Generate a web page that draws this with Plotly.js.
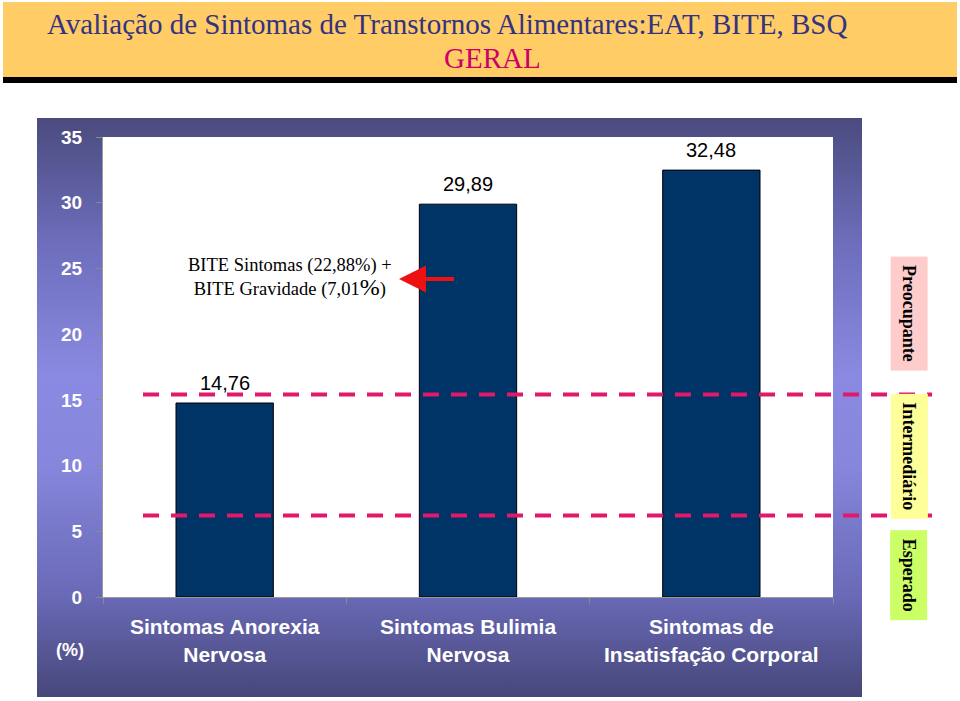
<!DOCTYPE html>
<html>
<head>
<meta charset="utf-8">
<script src="https://cdn.plot.ly/plotly-3.0.1.min.js"></script>
<style>
  html, body { margin:0; padding:0; background:#ffffff; }
  #wrap { position:relative; width:960px; height:701px; overflow:hidden; }
  #band { position:absolute; left:3px; top:2px; width:954px; height:75px; background:#FFCC66; }
  #bar { position:absolute; left:3px; top:77px; width:954px; height:6px; background:#000000; }
  #panel { position:absolute; left:37px; top:118px; width:825px; height:579px;
    background:linear-gradient(to bottom, #4b4b7f 0%, #6e6ebd 22%, #8a8ae2 45%, #8686dc 60%, #6a6ab8 82%, #47477a 100%); }
  #chart { position:absolute; left:0; top:0; width:960px; height:701px; }
</style>
</head>
<body>
<div id="wrap">
  <div id="band"></div>
  <div id="bar"></div>
  <div id="panel"></div>
  <div id="chart"></div>
</div>
<script>
// ---- data ----
const categories = ["Sintomas Anorexia<br>Nervosa", "Sintomas Bulimia<br>Nervosa", "Sintomas de<br>Insatisfação Corporal"];
const values = [14.76, 29.89, 32.48];
const thresholds = [15.4, 6.2];            // upper and lower cut-off lines
const zoneLabels = ["Preocupante", "Intermediário", "Esperado"];
const zoneCenters = [21.6, 10.7, 1.7];
const zoneColors = ["#FFCCCC", "#FFFF99", "#CCFF66"];
const yTicks = [0, 5, 10, 15, 20, 25, 30, 35];
const noteText = "BITE Sintomas (22,88%) +<br>BITE Gravidade (7,01<span style='font-size:24px'>%</span>)";
const noteY = 24.3;

const fmt = v => v.toFixed(2).replace('.', ',');

const trace = {
  type: 'bar',
  x: categories,
  y: values,
  marker: { color: '#003366', line: { color: '#000000', width: 1 } },
  hoverinfo: 'none'
};

const annotations = [];
// bar value labels
values.forEach((v, i) => {
  annotations.push({
    x: categories[i], y: v, xref: 'x', yref: 'y',
    text: fmt(v), showarrow: false, yanchor: 'bottom', yshift: 7,
    font: { family: 'Liberation Sans, Arial, sans-serif', size: 20, color: '#000000' }
  });
});
// title lines
annotations.push({
  xref: 'paper', yref: 'paper', x: (447 - 103) / 730, y: (597 - 24) / 460,
  xanchor: 'center', yanchor: 'middle', showarrow: false,
  text: 'Avaliação de Sintomas de Transtornos Alimentares:EAT, BITE, BSQ',
  font: { family: 'Liberation Serif, Times New Roman, serif', size: 29, color: '#333380' }
});
annotations.push({
  xref: 'paper', yref: 'paper', x: (492 - 103) / 730, y: (597 - 58) / 460,
  xanchor: 'center', yanchor: 'middle', showarrow: false,
  text: 'GERAL',
  font: { family: 'Liberation Serif, Times New Roman, serif', size: 29, color: '#CC0066' }
});
// note text
annotations.push({
  xref: 'paper', yref: 'y', x: (290 - 103) / 730, y: noteY,
  xanchor: 'center', yanchor: 'middle', showarrow: false, align: 'center',
  text: noteText,
  font: { family: 'Liberation Serif, Times New Roman, serif', size: 18.5, color: '#000000' }
});
// red arrow
annotations.push({
  xref: 'paper', yref: 'y', x: (399 - 103) / 730, y: 24.2,
  ax: 58, ay: 0, text: ' ', showarrow: true,
  arrowhead: 2, arrowsize: 1.35, arrowwidth: 4, arrowcolor: '#EE1111'
});
// (%)
annotations.push({
  xref: 'paper', yref: 'paper', x: (70 - 103) / 730, y: (597 - 650) / 460,
  xanchor: 'center', yanchor: 'middle', showarrow: false, text: '(%)',
  font: { family: 'Liberation Sans, Arial, sans-serif', size: 18, color: '#ffffff', weight: 'bold' }
});
// zone labels
zoneLabels.forEach((t, i) => {
  annotations.push({
    xref: 'paper', yref: 'y', x: (909 - 103) / 730, y: zoneCenters[i],
    xanchor: 'center', yanchor: 'middle', showarrow: false,
    text: '<b>' + t + '</b>', textangle: 90, bgcolor: zoneColors[i], borderpad: 8,
    font: { family: 'Liberation Serif, Times New Roman, serif', size: 18, color: '#000000' }
  });
});

const shapes = thresholds.map(t => ({
  type: 'line', xref: 'paper', yref: 'y',
  x0: (143 - 103) / 730, x1: (932 - 103) / 730, y0: t, y1: t,
  line: { color: '#E2186A', width: 4, dash: '16px,12px' }
}));

const layout = {
  width: 960, height: 701,
  margin: { l: 103, r: 127, t: 137, b: 104 },
  paper_bgcolor: 'rgba(0,0,0,0)',
  plot_bgcolor: '#ffffff',
  showlegend: false,
  bargap: 0.6,
  xaxis: {
    type: 'category', tickson: 'boundaries', ticks: 'outside', ticklen: 6, tickcolor: '#8a8a8a',
    showline: true, linecolor: '#9a9a9a', linewidth: 1, showgrid: false, zeroline: false,
    ticklabelstandoff: 11,
    tickfont: { family: 'Liberation Sans, Arial, sans-serif', size: 21, color: '#ffffff', weight: 'bold' }
  },
  yaxis: {
    range: [0, 35], tickvals: yTicks, ticktext: yTicks.map(String),
    ticks: 'outside', ticklen: 6, tickcolor: '#8a8a8a',
    showline: true, linecolor: '#9a9a9a', linewidth: 1, showgrid: false, zeroline: false,
    ticklabelstandoff: 10,
    tickfont: { family: 'Liberation Sans, Arial, sans-serif', size: 19, color: '#ffffff', weight: 'bold' }
  },
  annotations: annotations,
  shapes: shapes
};

Plotly.newPlot('chart', [trace], layout, { displayModeBar: false, staticPlot: true });
</script>
</body>
</html>
